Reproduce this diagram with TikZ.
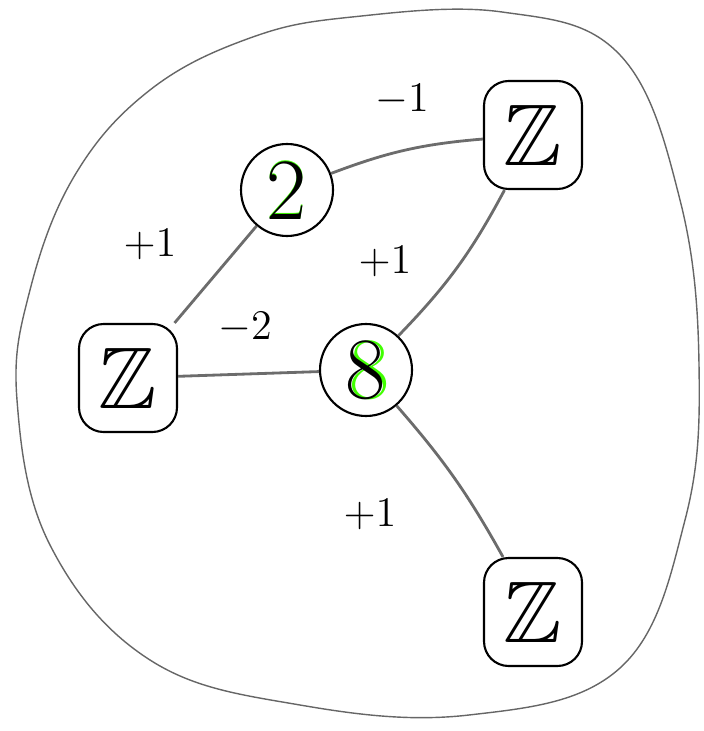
\documentclass[tikz,border=0pt]{standalone}
\usepackage{amssymb}
\begin{document}
\begin{tikzpicture}[x=1cm, y=-1cm]
\tikzset{
  grp/.style={draw, circle, semithick, minimum size=0.92cm, inner sep=0pt, font=\Huge},
  zbox/.style={draw, semithick, rounded corners=7pt, minimum width=0.98cm, minimum height=1.08cm, inner sep=0pt, font=\Huge},
  wire/.style={gray!85!black, thick},
  wt/.style={font=\large}
}
\useasboundingbox (0,0) rectangle (7.03,7.31);
% outer region
\draw[gray!80!black] plot[smooth cycle, tension=0.65] coordinates {
  (3.52,0.17) (5.02,0.12) (6.2,0.55) (6.8,2.0) (6.99,3.65) (6.85,5.2)
  (6.2,6.68) (4.69,7.15) (3.0,7.05) (1.5,6.6) (0.5,5.45) (0.17,4.0)
  (0.3,2.9) (0.75,1.75) (1.5,0.9) (2.5,0.38)};
% vertices
\node[grp] (two) at (2.87,1.9) {\rlap{\color{green!75!yellow}\raisebox{0.5pt}{2}}2};
\node[grp] (eight) at (3.66,3.7) {\rlap{\color{green!75!yellow}\hspace{1pt}8}8};
\node[zbox] (ztop) at (5.33,1.35) {$\mathbb{Z}$};
\node[zbox] (zleft) at (1.28,3.78) {$\mathbb{Z}$};
\node[zbox] (zbot) at (5.33,6.12) {$\mathbb{Z}$};
% edges
\draw[wire] (two) to[bend left=8] (ztop);
\draw[wire] (two) -- (zleft);
\draw[wire] (zleft) -- (eight);
\draw[wire] (eight) to[bend right=8] (ztop);
\draw[wire] (eight) to[bend left=6] (zbot);
% weights
\node[wt] (wa) at (4.02,1.0) {$-1$};
\node[wt] (wb) at (1.5,2.45) {$+1$};
\node[wt] (wc) at (2.45,3.28) {$-2$};
\node[wt] (wd) at (3.85,2.62) {$+1$};
\node[wt] (we) at (3.7,5.15) {$+1$};
\end{tikzpicture}
\end{document}
